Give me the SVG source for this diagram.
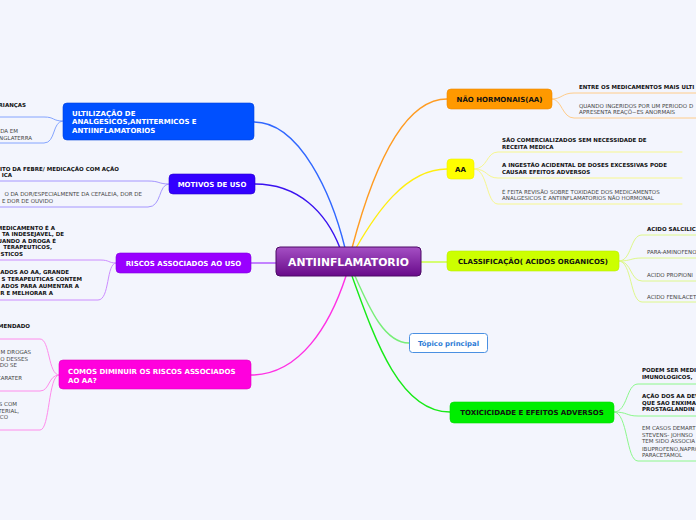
<svg xmlns="http://www.w3.org/2000/svg" width="696" height="520" viewBox="0 0 696 520">
<defs>
<linearGradient id="gc" x1="0" y1="0" x2="0" y2="1">
<stop offset="0" stop-color="#a550c4"/>
<stop offset="1" stop-color="#680a8a"/>
</linearGradient>
<style>
.t{font-family:"DejaVu Sans",Verdana,sans-serif;font-weight:bold;font-size:7px}
.w{fill:#ffffff}
.k{fill:#111111}
.c{font-family:"DejaVu Sans",Verdana,sans-serif;font-size:5.5px;fill:#444444}
.b{font-weight:bold;fill:#111111}
.e{text-anchor:end}
.m{text-anchor:middle}
.ln path{fill:none;stroke-linecap:round}
.main path{stroke-width:1.4}
.sub path{stroke-width:1}
</style>
</defs>
<rect width="696" height="520" fill="#f3f5fd"/>
<g id="connectors" class="ln">
<g class="main">
<path d="M254,122 C300,122 332,195 345,248" stroke="#3067ff"/>
<path d="M255,184 C298,184 326,212 340,248" stroke="#3a12f0"/>
<path d="M251,263 H277" stroke="#b45cff"/>
<path d="M251,375 C300,375 330,325 346,276" stroke="#ff30e4"/>
<path d="M447,99 C400,99 370,180 352,248" stroke="#ff9c22"/>
<path d="M447,169 C405,169 375,215 356,248" stroke="#ffee10"/>
<path d="M421,262 H447" stroke="#ccff44"/>
<path d="M409,343 C385,343 370,310 355,276" stroke="#77ee77"/>
<path d="M450,412 C400,412 375,340 352,276" stroke="#18ea18"/>
</g>
<g class="sub">
<path d="M63,121 C52,121 55,117 44,117 H-2" stroke="#84a4ff"/>
<path d="M63,121 C52,121 56,143 44,143 H-2" stroke="#84a4ff"/>
<path d="M169,184 C158,184 160,181 148,181 H-2" stroke="#a596ff"/>
<path d="M169,184 C158,184 162,207 148,207 H-2" stroke="#a596ff"/>
<path d="M116,263 C108,263 110,260 100,260 H-2" stroke="#cc8cff"/>
<path d="M116,263 C106,263 110,300 98,300 H-2" stroke="#cc8cff"/>
<path d="M59,375 C48,375 50,339 40,339 H-2" stroke="#ff8cec"/>
<path d="M59,375 C48,375 50,391 40,391 H-2" stroke="#ff8cec"/>
<path d="M59,375 C48,375 50,430 40,430 H-2" stroke="#ff8cec"/>
<path d="M552,99 C562,99 562,93 574,93 H700" stroke="#ffcc8a"/>
<path d="M552,99 C562,99 562,118 574,118 H700" stroke="#ffcc8a"/>
<path d="M474,169 C488,169 486,152 498,152 H682" stroke="#f7f78e"/>
<path d="M474,169 C488,169 486,178 498,178 H682" stroke="#f7f78e"/>
<path d="M474,169 C488,169 486,204 498,204 H682" stroke="#f7f78e"/>
<path d="M619,261 C632,261 630,235 642,235 H700" stroke="#def88a"/>
<path d="M619,261 C632,261 630,258 642,258 H700" stroke="#def88a"/>
<path d="M619,261 C632,261 630,281 642,281 H700" stroke="#def88a"/>
<path d="M619,261 C632,261 630,302 642,302 H700" stroke="#def88a"/>
<path d="M614,412 C628,412 626,384 638,384 H700" stroke="#8cf88c"/>
<path d="M614,412 C628,412 626,416 638,416 H700" stroke="#8cf88c"/>
<path d="M614,412 C628,412 626,461 638,461 H700" stroke="#8cf88c"/>
</g>
</g>
<g id="center">
<rect x="276" y="247" width="145" height="29" rx="4" fill="url(#gc)" stroke="#4d0a66" stroke-width="1"/>
<text class="t w m" x="348.5" y="266" style="font-size:10.8px">ANTIINFLAMATORIO</text>
</g>
<g id="n-ultilizacao">
<rect x="63" y="103" width="191" height="37" rx="4" fill="#0050ff" stroke="#0040dd" stroke-width="0.6"/>
<text class="t w" x="72" y="115.5">ULTILIZAÇÃO DE</text>
<text class="t w" x="72" y="124">ANALGESICOS,ANTITERMICOS E</text>
<text class="t w" x="72" y="132.5">ANTIINFLAMATORIOS</text>
</g>
<g id="n-ultilizacao-children">
<text class="c b e" x="26" y="107">RIANÇAS</text>
<text class="c e" x="18" y="132.7">DA EM</text>
<text class="c e" x="32" y="139.7">NGLATERRA</text>
</g>
<g id="n-motivos">
<rect x="169" y="174" width="86" height="20" rx="4" fill="#3300ff" stroke="#2800cc" stroke-width="0.6"/>
<text class="t w m" x="212" y="186.5">MOTIVOS DE USO</text>
</g>
<g id="n-motivos-children">
<text class="c b e" x="119" y="171">ITO DA FEBRE/ MEDICAÇÃO COM AÇÃO</text>
<text class="c b e" x="12" y="177.3">ICA</text>
<text class="c e" x="142" y="196">O DA DOR/ESPECIALMENTE DA CEFALEIA, DOR DE</text>
<text class="c e" x="53" y="202.7">E DOR DE OUVIDO</text>
</g>
<g id="n-riscos">
<rect x="116" y="253" width="135" height="20" rx="4" fill="#9900ff" stroke="#8000dd" stroke-width="0.6"/>
<text class="t w m" x="183.5" y="265.5">RISCOS ASSOCIADOS AO USO</text>
</g>
<g id="n-riscos-children">
<text class="c b e" x="55" y="229.7">MEDICAMENTO É A</text>
<text class="c b e" x="64" y="236.2">TA INDESEJAVEL, DE</text>
<text class="c b e" x="56" y="242.7">UANDO A DROGA É</text>
<text class="c b e" x="52" y="249.2">TERAPEUTICOS,</text>
<text class="c b e" x="23" y="255.7">STICOS</text>
<text class="c b e" x="69" y="274.3">ADOS AO AA, GRANDE</text>
<text class="c b e" x="82" y="281">S TERAPEUTICAS CONTEM</text>
<text class="c b e" x="79" y="287.7">ADOS PARA AUMENTAR A</text>
<text class="c b e" x="53" y="294.5">R E MELHORAR A</text>
</g>
<g id="n-comos">
<rect x="59" y="360" width="192" height="29" rx="4" fill="#ff00dd" stroke="#e000c0" stroke-width="0.6"/>
<text class="t w" x="68" y="373.5">COMOS DIMINUIR OS RISCOS ASSOCIADOS</text>
<text class="t w" x="68" y="382.5">AO AA?</text>
</g>
<g id="n-comos-children">
<text class="c b e" x="30" y="327.7">MENDADO</text>
<text class="c e" x="31" y="354.3">M DROGAS</text>
<text class="c e" x="28" y="360.8">O DESSES</text>
<text class="c e" x="17" y="367.3">DO SE</text>
<text class="c e" x="22" y="380.3">CARATER</text>
<text class="c e" x="17" y="406">S COM</text>
<text class="c e" x="19" y="412.6">TERIAL,</text>
<text class="c e" x="8" y="419.2">CO</text>
</g>
<g id="n-naohormonais">
<rect x="447" y="89" width="105" height="20" rx="4" fill="#ff9900" stroke="#ee8800" stroke-width="0.6"/>
<text class="t k m" x="499.5" y="101.5">NÃO HORMONAIS(AA)</text>
</g>
<g id="n-naohormonais-children">
<text class="c b" x="579" y="89">ENTRE OS MEDICAMENTOS MAIS ULTI</text>
<text class="c" x="579" y="107.5">QUANDO INGERIDOS POR UM PERIODO D</text>
<text class="c" x="579" y="114.2">APRESENTA REAÇÕ~ES ANORMAIS</text>
</g>
<g id="n-aa">
<rect x="447" y="159" width="27" height="20" rx="4" fill="#ffff00" stroke="#eeee00" stroke-width="0.6"/>
<text class="t k m" x="460.5" y="171.5">AA</text>
</g>
<g id="n-aa-children">
<text class="c b" x="502" y="142">SÃO COMERCIALIZADOS SEM NECESSIDADE DE</text>
<text class="c b" x="502" y="148.5">RECEITA MEDICA</text>
<text class="c b" x="502" y="167">A INGESTÃO ACIDENTAL DE DOSES EXCESSIVAS PODE</text>
<text class="c b" x="502" y="173.5">CAUSAR EFEITOS ADVERSOS</text>
<text class="c" x="502" y="193.5">É FEITA REVISÃO SOBRE TOXIDADE DOS MEDICAMENTOS</text>
<text class="c" x="502" y="200">ANALGESICOS E ANTIINFLAMATORIOS NÃO HORMONAL</text>
</g>
<g id="n-classificacao">
<rect x="447" y="251" width="172" height="20" rx="4" fill="#ccff00" stroke="#bbee00" stroke-width="0.6"/>
<text class="t k m" x="533" y="263.5">CLASSIFICAÇÃO( ACIDOS ORGANICOS)</text>
</g>
<g id="n-classificacao-children">
<text class="c b" x="647" y="231">ACIDO SALCILIC</text>
<text class="c" x="647" y="254">PARA-AMINOFENO</text>
<text class="c" x="647" y="276.5">ACIDO PROPIONI</text>
<text class="c" x="647" y="299">ACIDO FENILACET</text>
</g>
<g id="n-topico">
<rect x="409.5" y="333.5" width="78" height="19" rx="3" fill="#ffffff" stroke="#4a90e2" stroke-width="1"/>
<text class="t m" x="448.5" y="345.5" style="fill:#2b7bd6;font-size:6.9px">Tópico principal</text>
</g>
<g id="n-toxicidade">
<rect x="450" y="402" width="164" height="21" rx="4" fill="#00ee00" stroke="#00dd00" stroke-width="0.6"/>
<text class="t k m" x="532" y="415">TOXICICIDADE E EFEITOS ADVERSOS</text>
</g>
<g id="n-toxicidade-children">
<text class="c b" x="642" y="372">PODEM SER MEDI</text>
<text class="c b" x="642" y="378.5">IMUNOLOGICOS,</text>
<text class="c b" x="642" y="398">AÇÃO DOS AA DEV</text>
<text class="c b" x="642" y="404.5">QUE SAO ENXIMA</text>
<text class="c b" x="642" y="411">PROSTAGLANDIN</text>
<text class="c" x="642" y="430">EM CASOS DEMART</text>
<text class="c" x="642" y="436.5">STEVENS- JOHNSO</text>
<text class="c" x="642" y="443">TEM SIDO ASSOCIA</text>
<text class="c" x="642" y="450.5">IBUPROFENO,NAPRO</text>
<text class="c" x="642" y="457">PARACETAMOL</text>
</g>
</svg>
